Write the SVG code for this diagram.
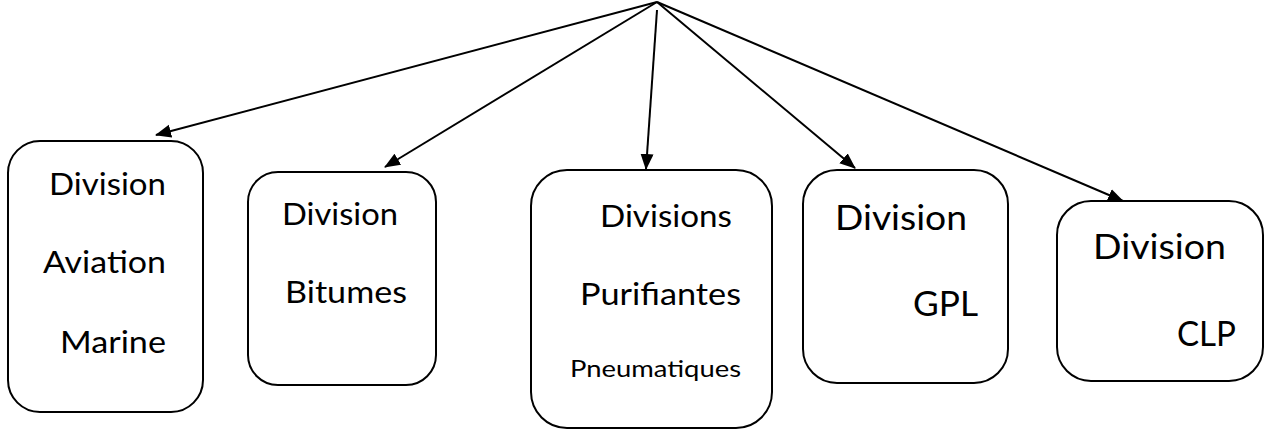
<svg xmlns="http://www.w3.org/2000/svg" width="1265" height="429" viewBox="0 0 1265 429">
  <style>
    .box { fill: #ffffff; stroke: #000000; stroke-width: 2; }
    .lbl { font-family: Lato, "Open Sans", "Liberation Sans", sans-serif; fill: #000000; }
    .link { stroke: #000000; stroke-width: 2; fill: none; marker-end: url(#arrow); }
  </style>
  <defs>
    <marker id="arrow" markerUnits="userSpaceOnUse" markerWidth="16" markerHeight="14" refX="15" refY="6.5" orient="auto">
      <path d="M0,0 L16,6.5 L0,13 Z" fill="#000000"/>
    </marker>
  </defs>
  <rect width="1265" height="429" fill="#ffffff"/>

  <g id="connectors">
    <line class="link" x1="657" y1="2" x2="156" y2="135"/>
    <line class="link" x1="657" y1="2" x2="385" y2="167"/>
    <line class="link" x1="657" y1="10" x2="646" y2="169"/>
    <line class="link" x1="657" y1="2" x2="855" y2="168"/>
    <line class="link" x1="657" y1="2" x2="1123" y2="201"/>
  </g>

  <g id="aviation-marine">
    <rect class="box" x="8" y="141" width="195" height="271" rx="32" ry="32"/>
    <text class="lbl" x="166" y="195" font-size="31" text-anchor="end" textLength="117" lengthAdjust="spacingAndGlyphs">Division</text>
    <text class="lbl" x="166" y="273" font-size="31" text-anchor="end" textLength="123" lengthAdjust="spacingAndGlyphs">Aviation</text>
    <text class="lbl" x="166" y="353" font-size="31" text-anchor="end" textLength="106" lengthAdjust="spacingAndGlyphs">Marine</text>
  </g>

  <g id="bitumes">
    <rect class="box" x="248" y="172" width="188" height="213" rx="30" ry="30"/>
    <text class="lbl" x="282" y="225" font-size="31" textLength="116" lengthAdjust="spacingAndGlyphs">Division</text>
    <text class="lbl" x="285" y="303" font-size="31" textLength="122" lengthAdjust="spacingAndGlyphs">Bitumes</text>
  </g>

  <g id="purifiantes-pneumatiques">
    <rect class="box" x="531" y="170" width="241" height="258" rx="36" ry="36"/>
    <text class="lbl" x="600" y="227" font-size="31" textLength="132" lengthAdjust="spacingAndGlyphs">Divisions</text>
    <text class="lbl" x="580" y="305" font-size="31" textLength="161" lengthAdjust="spacingAndGlyphs">Purifiantes</text>
    <text class="lbl" x="570" y="377" font-size="24" textLength="171" lengthAdjust="spacingAndGlyphs">Pneumatiques</text>
  </g>

  <g id="gpl">
    <rect class="box" x="803" y="170" width="205" height="213" rx="34" ry="34"/>
    <text class="lbl" x="835" y="230" font-size="35" textLength="132" lengthAdjust="spacingAndGlyphs">Division</text>
    <text class="lbl" x="913" y="316" font-size="35" textLength="65" lengthAdjust="spacingAndGlyphs">GPL</text>
  </g>

  <g id="clp">
    <rect class="box" x="1057" y="201" width="206" height="180" rx="34" ry="34"/>
    <text class="lbl" x="1093" y="259" font-size="35" textLength="133" lengthAdjust="spacingAndGlyphs">Division</text>
    <text class="lbl" x="1177" y="346" font-size="35" textLength="59" lengthAdjust="spacingAndGlyphs">CLP</text>
  </g>
</svg>
